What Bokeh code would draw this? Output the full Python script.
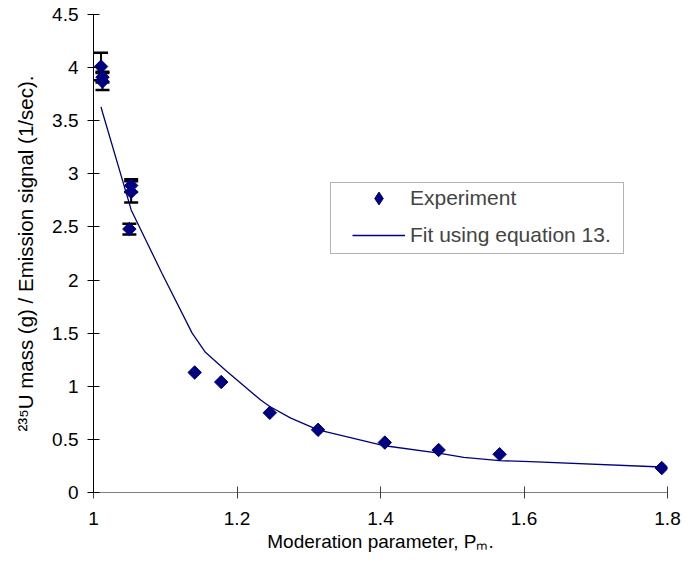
import math
from bokeh.plotting import figure
from bokeh.models import (FixedTicker, Legend, LegendItem, Whisker,
                          ColumnDataSource, TeeHead, BoxAnnotation)
from bokeh.embed import file_html
from bokeh.resources import INLINE

# ---------------- data ----------------
exp_x = [1.0105, 1.0125, 1.0125, 1.0525, 1.0525, 1.050, 1.141, 1.178,
         1.2457, 1.313, 1.406, 1.481, 1.566, 1.792]
exp_y = [4.01, 3.91, 3.87, 2.89, 2.83, 2.48, 1.13, 1.04,
         0.75, 0.59, 0.47, 0.40, 0.36, 0.23]
exp_err = [0.13, 0.05, 0.08, 0.06, 0.10, 0.05, 0, 0,
           0, 0, 0, 0, 0, 0]

fit_x = [1.0105, 1.0125, 1.050, 1.0525, 1.0957, 1.1375, 1.156, 1.184,
         1.233, 1.2457, 1.275, 1.313, 1.406, 1.481, 1.516, 1.566, 1.609, 1.792]
fit_y = [3.63, 3.58, 2.72, 2.66, 2.06, 1.50, 1.32, 1.15,
         0.87, 0.81, 0.70, 0.59, 0.44, 0.37, 0.33, 0.30, 0.29, 0.24]

x_ticks = [1.0, 1.2, 1.4, 1.6, 1.8]
x_tick_labels = ["1", "1.2", "1.4", "1.6", "1.8"]
y_ticks = [0, 0.5, 1, 1.5, 2, 2.5, 3, 3.5, 4, 4.5]
y_tick_labels = ["0", "0.5", "1", "1.5", "2", "2.5", "3", "3.5", "4", "4.5"]

x_title = "Moderation parameter, P\u2098."
y_title = "\u00b2\u00b3\u2075U mass (g) / Emission signal (1/sec)."
series_names = ["Experiment", "Fit using equation 13."]

FONT = "Liberation Sans"
NAVY = "#000080"

# ---------------- layout ----------------
W, H = 696, 565
L, R, T, B = 93, 29, 14, 73
X0, X1 = 1.0, 1.8
Y0, Y1 = 0.0, 4.5
fw = W - L - R
fh = H - T - B


def sx(px):
    return X0 + (px - L) / fw * (X1 - X0)


def sy(py):
    return Y0 + (H - B - py) / fh * (Y1 - Y0)


p = figure(width=W, height=H, x_range=(X0, X1), y_range=(Y0, Y1),
           output_backend="svg", toolbar_location=None,
           min_border_left=L, min_border_right=R,
           min_border_top=T, min_border_bottom=B)
p.outline_line_color = None
p.grid.visible = False
p.background_fill_color = "white"
p.border_fill_color = "white"

# axes
p.xaxis.ticker = FixedTicker(ticks=x_ticks)
p.xaxis.major_label_overrides = {t: s for t, s in zip(x_ticks, x_tick_labels)}
p.yaxis.ticker = FixedTicker(ticks=y_ticks)
p.yaxis.major_label_overrides = {t: s for t, s in zip(y_ticks, y_tick_labels)}
for ax in (p.xaxis, p.yaxis):
    ax.minor_tick_line_color = None
    ax.major_tick_in = 6
    ax.major_tick_out = 6
    ax.major_label_text_font = FONT
    ax.major_label_text_font_size = "19px"
    ax.major_label_text_color = "black"
    ax.axis_label_text_font = FONT
    ax.axis_label_text_font_style = "normal"
    ax.axis_label_text_color = "black"
p.yaxis.axis_line_color = "black"
p.yaxis.major_tick_line_color = "black"
p.yaxis.major_label_standoff = 9
p.yaxis.axis_label = y_title
p.yaxis.axis_label_text_font_size = "20.5px"
p.yaxis.axis_label_standoff = 12
p.xaxis.axis_line_color = "#808080"
p.xaxis.major_tick_line_color = "#404040"
p.xaxis.major_label_standoff = 13
p.xaxis.axis_label = x_title
p.xaxis.axis_label_text_font_size = "19px"
p.xaxis.axis_label_standoff = 3

# error bars
ex = [x for x, e in zip(exp_x, exp_err) if e > 0]
elo = [y - e for y, e in zip(exp_y, exp_err) if e > 0]
ehi = [y + e for y, e in zip(exp_y, exp_err) if e > 0]
esrc = ColumnDataSource(dict(base=ex, lower=elo, upper=ehi))
wh = Whisker(source=esrc, base="base", lower="lower", upper="upper",
             line_color="black", line_width=2,
             upper_head=TeeHead(size=14, line_width=2.5, line_color="black"),
             lower_head=TeeHead(size=14, line_width=2.5, line_color="black"))
p.add_layout(wh)

# fit line
fit_r = p.line(fit_x, fit_y, line_color=NAVY, line_width=1.3)

# experiment markers: diamond glyph (used as legend key) beneath
# rotated squares that give the square-diamond look
key_r = p.scatter(exp_x, exp_y, marker="diamond", size=12,
                  fill_color=NAVY, line_color=NAVY)
exp_r = p.scatter(exp_x, exp_y, marker="square", angle=math.pi / 4,
                  size=9.5, fill_color=NAVY, line_color=NAVY)

# legend
legend = Legend(items=[LegendItem(label=series_names[0], renderers=[key_r]),
                       LegendItem(label=series_names[1], renderers=[fit_r])],
                location=(352 - L, H - B - 251), padding=0, spacing=5,
                glyph_width=53, glyph_height=32, label_height=32,
                label_standoff=5, label_text_font=FONT,
                label_text_font_size="21px", border_line_alpha=0,
                background_fill_alpha=0, margin=0)
p.add_layout(legend)
p.add_layout(BoxAnnotation(left=sx(330), right=sx(623), top=sy(182), bottom=sy(253),
                           fill_alpha=0, line_color="black", line_width=1,
                           level="overlay"))

open("out.html", "w").write(file_html(p, INLINE))
